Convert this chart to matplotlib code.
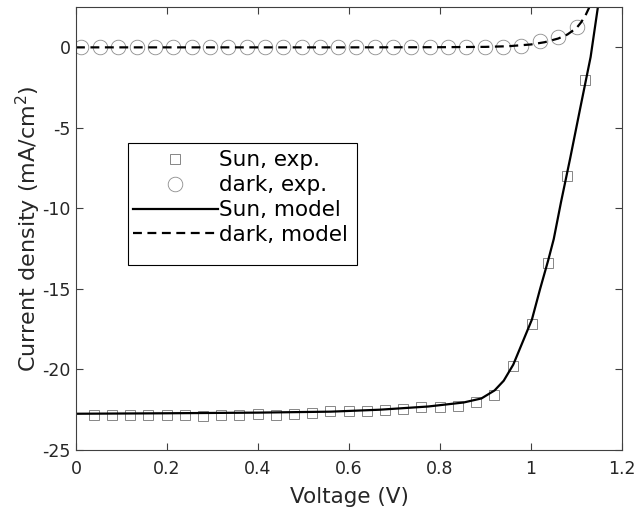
import numpy as np
import matplotlib
matplotlib.use('Agg')
import matplotlib.pyplot as plt
from matplotlib.patches import Rectangle

plt.rcParams['font.family'] = ['DejaVu Sans']
plt.rcParams['axes.unicode_minus'] = False

v_sun_exp = [0.039, 0.079, 0.119, 0.159, 0.199, 0.239, 0.279, 0.319, 0.359, 0.399,
             0.439, 0.479, 0.519, 0.559, 0.599, 0.639, 0.679, 0.719, 0.759, 0.799,
             0.839, 0.879, 0.919, 0.960, 1.002, 1.037, 1.079, 1.119]
j_sun_exp = [-22.8, -22.85, -22.8, -22.8, -22.85, -22.8, -22.9, -22.85, -22.8, -22.75,
             -22.8, -22.75, -22.7, -22.6, -22.6, -22.55, -22.5, -22.45, -22.35, -22.3,
             -22.25, -22.05, -21.6, -19.8, -17.2, -13.4, -8.0, -2.0]

v_dark_exp = [0.012, 0.052, 0.093, 0.133, 0.173, 0.214, 0.254, 0.294, 0.334, 0.375,
              0.415, 0.455, 0.496, 0.536, 0.576, 0.616, 0.657, 0.697, 0.737, 0.778,
              0.818, 0.858, 0.898, 0.939, 0.979, 1.019, 1.060, 1.100]
j_dark_exp = [0, 0, 0, 0, 0, 0, 0, 0, 0, 0,
              0, 0, 0, 0, 0, 0, 0, 0, 0, 0,
              0, 0, 0.01, 0.02, 0.1, 0.37, 0.62, 1.25]

# Model curves
v_sun_model = [0.0, 0.2, 0.4, 0.56, 0.667, 0.774, 0.852, 0.891, 0.92, 0.94, 0.961, 0.983,
               1.002, 1.02, 1.038, 1.05, 1.066, 1.086, 1.108, 1.131, 1.147]
j_sun_model = [-22.75, -22.72, -22.68, -22.62, -22.5, -22.3, -22.05, -21.8, -21.3, -20.7,
               -19.7, -18.2, -16.9, -15.0, -13.2, -11.9, -9.6, -6.9, -3.8, -0.6, 2.5]

v_dark_model = [0.0, 0.2, 0.4, 0.6, 0.8, 0.9, 0.95, 1.0, 1.03, 1.06, 1.08, 1.10,
                1.11, 1.12, 1.13]
j_dark_model = [0, 0, 0, 0, 0.01, 0.03, 0.07, 0.18, 0.32, 0.55, 0.8, 1.2,
                1.55, 2.0, 2.6]

fig = plt.figure(figsize=(6.36, 5.18), dpi=100)
ax = fig.add_axes([0.1195, 0.1313, 0.8585, 0.855])

ax.plot(v_sun_exp, j_sun_exp, ls='none', marker='s', ms=7, mfc='none',
        mec='0.45', mew=0.6, label='Sun, exp.')
ax.plot(v_dark_exp, j_dark_exp, ls='none', marker='o', ms=10.5, mfc='none',
        mec='0.55', mew=0.6, label='dark, exp.')
ax.plot(v_sun_model, j_sun_model, color='black', lw=1.6, label='Sun, model')
ax.plot(v_dark_model, j_dark_model, color='black', lw=1.6, ls=(0, (4, 2.5)),
        label='dark, model')

ax.set_xlim(0, 1.2)
ax.set_ylim(-25, 2.5)
ax.set_xticks([0, 0.2, 0.4, 0.6, 0.8, 1.0, 1.2])
ax.set_xticklabels(['0', '0.2', '0.4', '0.6', '0.8', '1', '1.2'])
ax.set_yticks([-25, -20, -15, -10, -5, 0])
ax.tick_params(direction='in', top=True, right=True, length=5, width=0.8,
               color='0.25', labelsize=12.5, labelcolor='0.15')
ax.tick_params(axis='x', pad=7)
ax.tick_params(axis='y', pad=4)
for s in ax.spines.values():
    s.set_color('0.25')
    s.set_linewidth(0.8)

ax.set_xlabel('Voltage (V)', fontsize=15.5, color='0.15', labelpad=7)
ax.set_ylabel('Current density (mA/cm$^2$)', fontsize=16, color='0.15', labelpad=-1)

leg = ax.legend(loc='upper left', bbox_to_anchor=(0.104, 0.677), fontsize=15.5,
                frameon=False, handlelength=3.95, handletextpad=0.05,
                labelspacing=0.23, borderpad=0, borderaxespad=0)
# legend box (MATLAB-style, extra room at the bottom)
ax.add_patch(Rectangle((0.0952, 0.4176), 0.4194, 0.2754, transform=ax.transAxes,
                       fill=False, edgecolor='black', lw=0.8, zorder=5))

fig.savefig('out.png', dpi=100)
